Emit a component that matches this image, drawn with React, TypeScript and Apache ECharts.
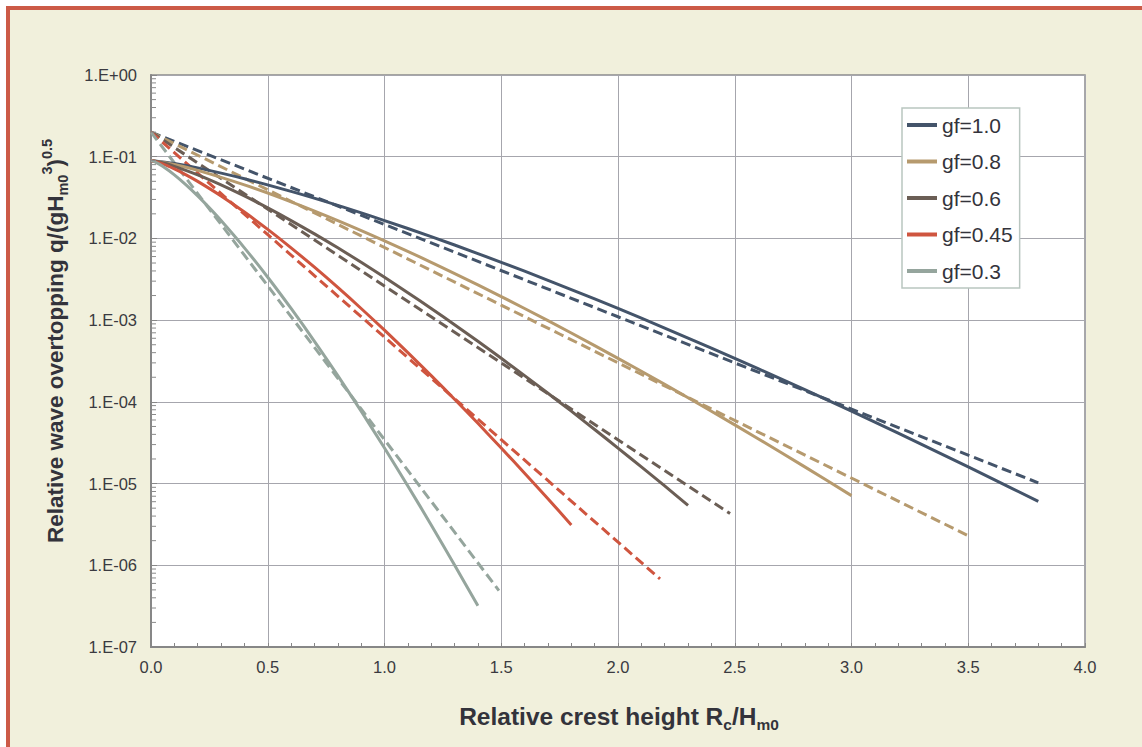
import React, { useEffect, useRef } from "react";
import * as echarts from "echarts";

// ---- data ----
// solid curves
const gf10X = [0, 0.1, 0.2, 0.4, 0.6, 0.8, 1.0, 1.2, 1.4, 1.6, 1.8, 2.0, 2.2, 2.4, 2.6, 2.8, 3.0, 3.2, 3.4, 3.6, 3.8];
const gf10Q = [0.09, 0.0827, 0.073, 0.0538, 0.0376, 0.02534, 0.01654, 0.01051, 0.00653, 0.003972, 0.002369, 0.00139, 0.000801, 0.000455, 0.000255, 0.000141, 7.69e-5, 4.14e-5, 2.2e-5, 1.16e-5, 6.05e-6];

const gf08X = [0, 0.1, 0.2, 0.4, 0.6, 0.8, 1.0, 1.2, 1.4, 1.6, 1.8, 2.0, 2.2, 2.4, 2.6, 2.8, 3.0];
const gf08Q = [0.09, 0.0803, 0.0681, 0.04523, 0.02806, 0.01654, 0.00935, 0.005105, 0.0027, 0.001389, 0.000697, 0.000341, 0.0001636, 7.69e-5, 3.54e-5, 1.6e-5, 7.12e-6];

const gf06X = [0, 0.05, 0.1, 0.2, 0.3, 0.4, 0.5, 0.6, 0.7, 0.8, 0.9, 1.0, 1.1, 1.2, 1.3, 1.4, 1.5, 1.6, 1.7, 1.8, 1.9, 2.0, 2.1, 2.2, 2.3];
const gf06Q = [0.09, 0.0842, 0.0763, 0.06, 0.04523, 0.03311, 0.02365, 0.01654, 0.01136, 0.00767, 0.005105, 0.00335, 0.00217, 0.001389, 0.000879, 0.000551, 0.000341, 0.0002095, 0.0001274, 7.69e-5, 4.59e-5, 2.72e-5, 1.6e-5, 9.35e-6, 5.42e-6];

const gf045X = [0, 0.05, 0.1, 0.15, 0.2, 0.3, 0.4, 0.5, 0.6, 0.7, 0.8, 0.9, 1.0, 1.1, 1.2, 1.3, 1.4, 1.5, 1.6, 1.7, 1.8];
const gf045Q = [0.09, 0.0816, 0.0708, 0.06, 0.04988, 0.03311, 0.02104, 0.0129, 0.00767, 0.004442, 0.00251, 0.001389, 0.000753, 0.000401, 0.0002095, 0.0001077, 5.46e-5, 2.72e-5, 1.34e-5, 6.51e-6, 3.12e-6];

const gf03X = [0, 0.025, 0.05, 0.1, 0.15, 0.2, 0.25, 0.3, 0.4, 0.5, 0.6, 0.7, 0.8, 0.9, 1.0, 1.1, 1.2, 1.3, 1.4];
const gf03Q = [0.09, 0.0842, 0.0763, 0.06, 0.04523, 0.03311, 0.02365, 0.01654, 0.00767, 0.00335, 0.001389, 0.000551, 0.0002095, 7.69e-5, 2.72e-5, 9.35e-6, 3.12e-6, 1.01e-6, 3.19e-7];

// dashed curves
const d10X = [0, 2.0, 3.8];
const d10Q = [0.2, 0.0011, 1.02e-5];
const d08X = [0, 1.75, 3.5];
const d08Q = [0.2, 0.000677, 2.3e-6];
const d06X = [0, 1.2, 2.48];
const d06Q = [0.2, 0.0011, 4.3e-6];
const d045X = [0, 1.0, 2.18];
const d045Q = [0.2, 0.000619, 6.8e-7];
const d03X = [0, 0.75, 1.49];
const d03Q = [0.2, 0.000301, 4.9e-7];

const names = ["gf=1.0", "gf=0.8", "gf=0.6", "gf=0.45", "gf=0.3"];
const colors = ["#44546A", "#B69A6E", "#6B5E55", "#CF553F", "#95A59D"];
const minorMultipliers = [2, 3, 4, 5, 6, 7, 8, 9];
const decades = [1e-7, 1e-6, 1e-5, 1e-4, 1e-3, 1e-2, 1e-1];

const FONT = '"Liberation Sans", Arial, Helvetica, sans-serif';

const zip = (xs: number[], ys: number[]) => xs.map((x, i) => [x, ys[i]]);

const makeRich = (main: number, small: number) => ({
  b: { fontSize: main, fontWeight: "bold", fontFamily: FONT, lineHeight: main + 8, fill: "#33333b" },
  sub: { fontSize: small, fontWeight: "bold", fontFamily: FONT, lineHeight: small + 1, verticalAlign: "bottom", fill: "#33333b" },
  sup: { fontSize: small, fontWeight: "bold", fontFamily: FONT, lineHeight: small + 1, verticalAlign: "top", fill: "#33333b" },
});

export default function App() {
  const ref = useRef<HTMLDivElement>(null);

  useEffect(() => {
    if (!ref.current) return;
    const chart = echarts.init(ref.current, null, { renderer: "svg" });

    const solids = [
      zip(gf10X, gf10Q),
      zip(gf08X, gf08Q),
      zip(gf06X, gf06Q),
      zip(gf045X, gf045Q),
      zip(gf03X, gf03Q),
    ];
    const dashes = [
      zip(d10X, d10Q),
      zip(d08X, d08Q),
      zip(d06X, d06Q),
      zip(d045X, d045Q),
      zip(d03X, d03Q),
    ];

    const minorTickData: number[][] = [];
    decades.forEach((d) => minorMultipliers.forEach((m) => minorTickData.push([0, d * m])));

    const series: any[] = [];
    dashes.forEach((data, i) => {
      series.push({
        name: names[i] + " (dashed)",
        type: "line",
        data,
        showSymbol: false,
        symbol: "none",
        lineStyle: { color: colors[i], width: 3, type: [10, 5], cap: "butt" },
        itemStyle: { color: colors[i] },
        z: 3,
      });
    });
    solids.forEach((data, i) => {
      series.push({
        name: names[i],
        type: "line",
        data,
        showSymbol: false,
        symbol: "none",
        smooth: 0.3,
        lineStyle: { color: colors[i], width: 3 },
        itemStyle: { color: colors[i] },
        z: 4,
      });
    });
    series.push({
      type: "custom",
      name: "minor ticks",
      coordinateSystem: "cartesian2d",
      silent: true,
      clip: false,
      data: minorTickData,
      renderItem: (params: any, api: any) => {
        const p = api.coord([api.value(0), api.value(1)]);
        return {
          type: "line",
          shape: { x1: p[0], y1: p[1], x2: p[0] + 5, y2: p[1] },
          style: { stroke: "#8a8a8a", lineWidth: 1 },
        };
      },
      z: 5,
    });

    chart.setOption({
      animation: false,
      backgroundColor: "transparent",
      textStyle: { fontFamily: FONT },
      grid: {
        left: 151,
        right: 57,
        top: 75,
        bottom: 100,
        show: true,
        backgroundColor: "#ffffff",
        borderColor: "#8c8c8c",
        borderWidth: 1.5,
        containLabel: false,
        outerBoundsMode: "none",
      },
      legend: {
        orient: "vertical",
        left: 902,
        top: 108,
        data: names,
        icon: "rect",
        itemWidth: 30,
        itemHeight: 4,
        itemGap: 15.5,
        padding: [6.5, 7, 6.5, 5],
        backgroundColor: "#ffffff",
        borderColor: "#b9c6c0",
        borderWidth: 1.5,
        borderRadius: 0,
        selectedMode: false,
        textStyle: { fontSize: 21, lineHeight: 21, color: "#33333b", fontFamily: FONT },
      },
      xAxis: {
        type: "value",
        min: 0,
        max: 4,
        interval: 0.5,
        axisLine: { show: true, onZero: false, lineStyle: { color: "#878787", width: 2 } },
        axisTick: { show: true, inside: true, length: 4, lineStyle: { color: "#878787" } },
        minorTick: { show: true, splitNumber: 5, length: 4, lineStyle: { color: "#878787" } },
        splitLine: { show: true, lineStyle: { color: "#a6a6ad", width: 1 } },
        axisLabel: {
          margin: 11,
          fontSize: 16.5,
          color: "#3a3a40",
          fontFamily: FONT,
          formatter: (v: number) => v.toFixed(1),
        },
      },
      yAxis: {
        type: "log",
        logBase: 10,
        min: 1e-7,
        max: 1,
        interval: 1,
        axisLine: { show: true, onZero: false, lineStyle: { color: "#878787", width: 2 } },
        axisTick: { show: true, inside: true, length: 6, lineStyle: { color: "#878787" } },
        splitLine: { show: true, lineStyle: { color: "#a6a6ad", width: 1 } },
        axisLabel: {
          margin: 14,
          fontSize: 16.5,
          color: "#3a3a40",
          fontFamily: FONT,
          formatter: (v: number) => {
            const e = Math.round(Math.log10(v));
            return "1.E" + (e >= 0 ? "+" : "-") + String(Math.abs(e)).padStart(2, "0");
          },
        },
      },
      graphic: [
        {
          type: "text",
          x: 619,
          y: 716,
          silent: true,
          style: {
            text: "{b|Relative crest height R}{sub|c}{b|/H}{sub|m0}",
            align: "center",
            verticalAlign: "middle",
            rich: makeRich(24.5, 15.5),
          },
        },
        {
          type: "text",
          x: 55,
          y: 341,
          rotation: Math.PI / 2,
          silent: true,
          style: {
            text: "{b|Relative wave overtopping q/(gH}{sub|m0}{sup|3}{b|)}{sup|0.5}",
            align: "center",
            verticalAlign: "middle",
            rich: makeRich(22.5, 14.5),
          },
        },
      ],
      series,
    });

    return () => chart.dispose();
  }, []);

  return (
    <div style={{ position: "fixed", left: 0, top: 0, width: 1142, height: 747, background: "#ffffff", overflow: "hidden" }}>
      <div
        style={{
          position: "absolute",
          left: 6,
          top: 6,
          width: 1200,
          height: 800,
          background: "#F1F0DC",
          borderLeft: "4px solid #CC5A47",
          borderTop: "4px solid #CC5A47",
        }}
      />
      <div ref={ref} style={{ position: "absolute", left: 0, top: 0, width: 1142, height: 747 }} />
    </div>
  );
}
